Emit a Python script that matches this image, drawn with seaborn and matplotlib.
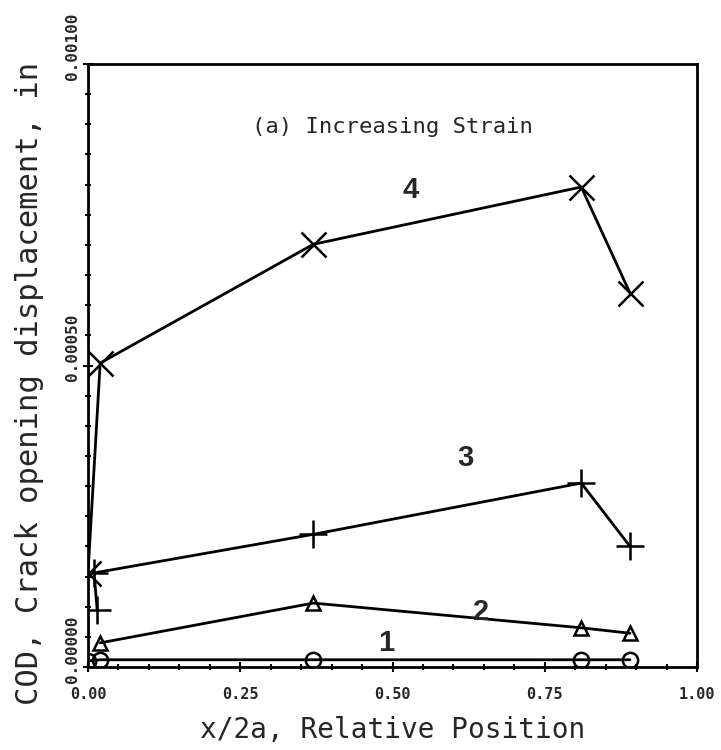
import matplotlib
matplotlib.use("Agg")
import matplotlib.pyplot as plt
import matplotlib.transforms as mtransforms
from matplotlib.ticker import MultipleLocator, FixedLocator
import numpy as np
import pandas as pd
import seaborn as sns

# ---- data ----
x1 = [0.0, 0.02, 0.37, 0.81, 0.89]
y1 = [0.000010, 0.000012, 0.000012, 0.000012, 0.000012]

x2 = [0.02, 0.37, 0.81, 0.89]
y2 = [0.000040, 0.000106, 0.000065, 0.000056]

x3 = [0.015, 0.01, 0.37, 0.81, 0.89]
y3 = [0.000095, 0.000156, 0.000220, 0.000305, 0.000200]

x4 = [0.0, 0.02, 0.37, 0.81, 0.89]
y4 = [0.000156, 0.000504, 0.000701, 0.000796, 0.000620]

curve_labels = ["1", "2", "3", "4"]
label_x = [0.49, 0.645, 0.62, 0.53]
label_y = [0.000040, 0.000092, 0.000347, 0.000791]

xticks = [0.0, 0.25, 0.50, 0.75, 1.00]
xtick_labels = ["0.00", "0.25", "0.50", "0.75", "1.00"]
yticks = [0.0, 0.0005, 0.001]
ytick_labels = ["0.00000", "0.00050", "0.00100"]

title_text = "(a) Increasing Strain"
xlabel = "x/2a, Relative Position"
ylabel = "COD, Crack opening displacement, in"

# ---- style ----
sns.set_style("ticks")
plt.rcParams["font.family"] = ["DejaVu Sans Mono", "DejaVu Sans"]

fig = plt.figure(figsize=(7.21, 7.5), dpi=100)
ax = fig.add_axes([88 / 721, 1 - 667 / 750, (697 - 88) / 721, (667 - 64) / 750])

series = [
    (x1, y1, "o", 11, "none"),
    (x2, y2, "^", 10, "none"),
    (x3, y3, "+", 20, "black"),
    (x4, y4, "x", 18, "black"),
]
for xs, ys, mk, ms, mfc in series:
    df = pd.DataFrame({"x": xs, "y": ys})
    sns.lineplot(data=df, x="x", y="y", sort=False, estimator=None, ax=ax,
                 color="black", linewidth=2.0, marker=mk, markersize=ms,
                 markerfacecolor=mfc, markeredgecolor="black",
                 markeredgewidth=1.8)

ax.set_xlim(0, 1.0)
ax.set_ylim(0, 0.001)

ax.xaxis.set_major_locator(FixedLocator(xticks))
ax.set_xticklabels(xtick_labels, fontsize=11, fontweight="bold")
ax.xaxis.set_minor_locator(MultipleLocator(0.05))
ax.yaxis.set_major_locator(FixedLocator(yticks))
ax.set_yticklabels(ytick_labels, fontsize=11.5, fontweight="bold",
                   rotation=90, va="center")
ax.yaxis.set_minor_locator(MultipleLocator(0.00005))

ax.tick_params(axis="both", which="both", direction="inout", color="black")
ax.tick_params(axis="both", which="major", length=7, width=1.5)
ax.tick_params(axis="both", which="minor", length=5, width=1.5)
ax.tick_params(axis="x", which="major", pad=11)
ax.tick_params(axis="y", which="major", pad=2)

# shift y tick labels upward like the reference
offset = mtransforms.ScaledTranslation(0, 18 / 100, fig.dpi_scale_trans)
for lbl in ax.get_yticklabels():
    lbl.set_transform(lbl.get_transform() + offset)

for sp in ax.spines.values():
    sp.set_visible(True)
    sp.set_linewidth(2.0)
    sp.set_color("black")

ax.set_xlabel(xlabel, fontsize=20, labelpad=10)
ax.set_ylabel(ylabel, fontsize=22)
ax.yaxis.set_label_coords(-0.072, 0.47)

ax.text(0.27, 0.000896, title_text, fontsize=16, ha="left", va="center")

for t, lx, ly in zip(curve_labels, label_x, label_y):
    ax.text(lx, ly, t, fontsize=21, fontweight="bold", ha="center",
            va="center", family="Liberation Sans")

fig.savefig("out.png", dpi=100, facecolor="white")
